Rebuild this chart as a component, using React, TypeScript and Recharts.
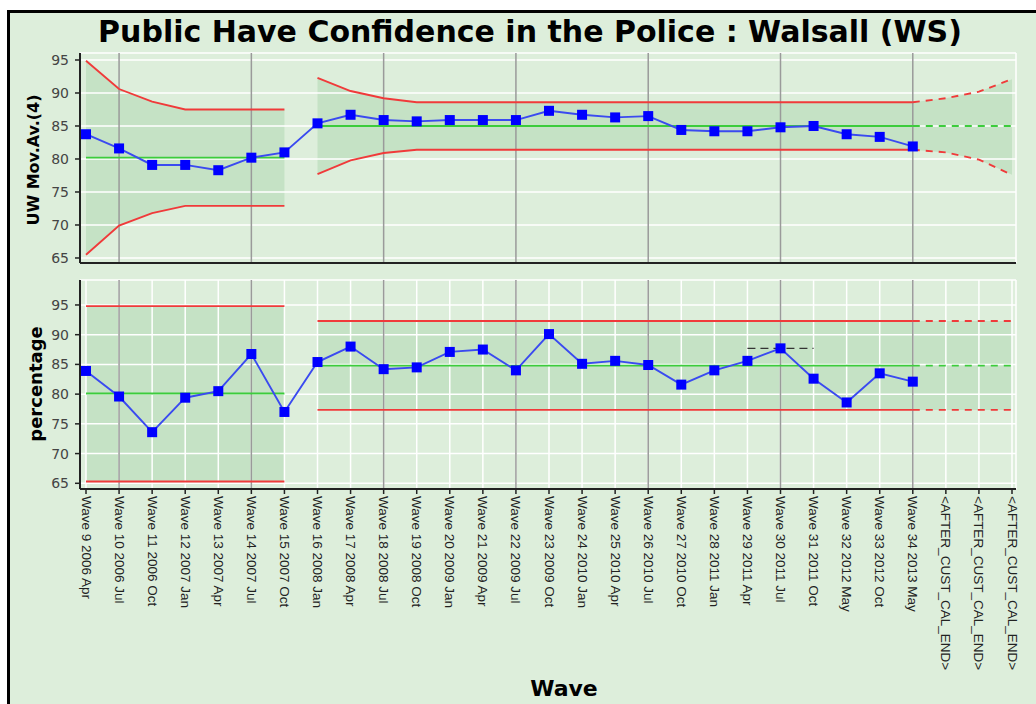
import { ComposedChart, Line, Area, XAxis, YAxis, CartesianGrid, ReferenceLine } from 'recharts';

const categories = [
  'Wave 9 2006 Apr', 'Wave 10 2006 Jul', 'Wave 11 2006 Oct', 'Wave 12 2007 Jan',
  'Wave 13 2007 Apr', 'Wave 14 2007 Jul', 'Wave 15 2007 Oct', 'Wave 16 2008 Jan',
  'Wave 17 2008 Apr', 'Wave 18 2008 Jul', 'Wave 19 2008 Oct', 'Wave 20 2009 Jan',
  'Wave 21 2009 Apr', 'Wave 22 2009 Jul', 'Wave 23 2009 Oct', 'Wave 24 2010 Jan',
  'Wave 25 2010 Apr', 'Wave 26 2010 Jul', 'Wave 27 2010 Oct', 'Wave 28 2011 Jan',
  'Wave 29 2011 Apr', 'Wave 30 2011 Jul', 'Wave 31 2011 Oct', 'Wave 32 2012 May',
  'Wave 33 2012 Oct', 'Wave 34 2013 May', '<AFTER_CUST_CAL_END>', '<AFTER_CUST_CAL_END>',
  '<AFTER_CUST_CAL_END>',
];

// index where each limit segment starts: [first period, second period, projection]
const segmentStarts = [0, 7, 25];
const yTicks = [65, 70, 75, 80, 85, 90, 95];
const markedWaves = [1, 5, 9, 13, 17, 21, 25];

// top panel: UW moving average (4)
const movAv = [
  83.75, 81.6, 79.1, 79.1, 78.3, 80.2, 81.0, 85.4, 86.7, 85.9, 85.7, 85.9, 85.9,
  85.9, 87.3, 86.7, 86.3, 86.5, 84.4, 84.2, 84.2, 84.8, 85.0, 83.75, 83.35, 81.9,
];
const movAvCentre = [80.2, 85.0, 85.0];
const movAvUcl1 = [94.9, 90.6, 88.7, 87.5, 87.5, 87.5, 87.5];
const movAvLcl1 = [65.5, 69.9, 71.8, 72.9, 72.9, 72.9, 72.9];
const movAvUcl2 = [92.3, 90.3, 89.2, 88.6, 88.6, 88.6, 88.6, 88.6, 88.6, 88.6, 88.6, 88.6, 88.6, 88.6, 88.6, 88.6, 88.6, 88.6, 88.6];
const movAvLcl2 = [77.7, 79.8, 80.9, 81.4, 81.4, 81.4, 81.4, 81.4, 81.4, 81.4, 81.4, 81.4, 81.4, 81.4, 81.4, 81.4, 81.4, 81.4, 81.4];
const movAvUclProj = [88.6, 89.2, 90.2, 92.1];
const movAvLclProj = [81.4, 81.0, 79.9, 77.6];

// bottom panel: percentage
const pct = [
  83.9, 79.6, 73.6, 79.4, 80.5, 86.75, 77.0, 85.4, 88.0, 84.2, 84.5, 87.1, 87.5,
  84.0, 90.1, 85.1, 85.6, 84.9, 81.6, 84.0, 85.6, 87.7, 82.6, 78.6, 83.5, 82.1,
];
const pctCentre = [80.1, 84.8, 84.8];
const pctUcl1 = [94.8, 94.8, 94.8, 94.8, 94.8, 94.8, 94.8];
const pctLcl1 = [65.3, 65.3, 65.3, 65.3, 65.3, 65.3, 65.3];
const pctUcl2 = [92.3, 92.3, 92.3, 92.3, 92.3, 92.3, 92.3, 92.3, 92.3, 92.3, 92.3, 92.3, 92.3, 92.3, 92.3, 92.3, 92.3, 92.3, 92.3];
const pctLcl2 = [77.35, 77.35, 77.35, 77.35, 77.35, 77.35, 77.35, 77.35, 77.35, 77.35, 77.35, 77.35, 77.35, 77.35, 77.35, 77.35, 77.35, 77.35, 77.35];
const pctUclProj = [92.3, 92.3, 92.3, 92.3];
const pctLclProj = [77.35, 77.35, 77.35, 77.35];
// short dashed marker near wave 29-31
const pctMarkStart = 20;
const pctMark = [87.7, 87.7, 87.7];

const BG = '#ddeedb';
const BAND = '#c5e2c5';
const RED = '#f03a3a';
const GREEN = '#3ccc3c';

function buildRows(values, centre, ucls, lcls) {
  return categories.map((_, i) => {
    const row = { idx: i, value: i < values.length ? values[i] : null };
    ucls.forEach((u, s) => {
      const k = i - segmentStarts[s];
      const inSeg = k >= 0 && k < u.length;
      row['u' + s] = inSeg ? u[k] : null;
      row['l' + s] = inSeg ? lcls[s][k] : null;
      row['c' + s] = inSeg ? centre[s] : null;
      row['b' + s] = inSeg ? [lcls[s][k], u[k]] : null;
    });
    return row;
  });
}

const topRows = buildRows(movAv, movAvCentre, [movAvUcl1, movAvUcl2, movAvUclProj], [movAvLcl1, movAvLcl2, movAvLclProj]);
const bottomRows = buildRows(pct, pctCentre, [pctUcl1, pctUcl2, pctUclProj], [pctLcl1, pctLcl2, pctLclProj]);
bottomRows.forEach((r, i) => {
  const k = i - pctMarkStart;
  r.mark = k >= 0 && k < pctMark.length ? pctMark[k] : null;
});

const SquareDot = (props) => {
  const { cx, cy, index } = props;
  if (cx == null || cy == null || Number.isNaN(cy)) return <g key={index} />;
  return <rect key={index} x={cx - 5} y={cy - 5} width={10} height={10} fill='#0000ff' />;
};

const WaveTick = ({ x, y, payload }) => (
  <text
    x={x}
    y={y}
    transform={`rotate(90, ${x}, ${y})`}
    textAnchor='start'
    dominantBaseline='central'
    fontSize={13.5}
    fontFamily='Liberation Sans, Arial, sans-serif'
    fill='#222'
  >
    {categories[payload.value]}
  </text>
);

function Panel({ rows, domain, height, top, axisHeight, labels, mark }) {
  return (
    <ComposedChart
      width={1036}
      height={height}
      data={rows}
      margin={{ top, right: 20, bottom: 0, left: 0 }}
    >
      {[0, 1, 2].map((s) => (
        <Area
          key={'b' + s}
          dataKey={'b' + s}
          type='linear'
          stroke='none'
          fill={BAND}
          fillOpacity={1}
          isAnimationActive={false}
        />
      ))}
      <CartesianGrid stroke='#ffffff' strokeWidth={1.5} zIndex={150} />
      {markedWaves.map((w) => (
        <ReferenceLine key={w} x={w} stroke='#9a9a9a' strokeWidth={1.5} zIndex={160} />
      ))}
      <XAxis
        dataKey='idx'
        type='category'
        scale='point'
        padding={{ left: 6, right: 4 }}
        height={axisHeight}
        interval={0}
        tickSize={5}
        tickMargin={2}
        axisLine={{ stroke: '#222', strokeWidth: 2 }}
        tickLine={{ stroke: '#222', strokeWidth: 1.5 }}
        tick={labels ? <WaveTick /> : false}
      />
      <YAxis
        width={80}
        domain={domain}
        allowDataOverflow
        ticks={yTicks}
        tickSize={5}
        tickMargin={6}
        axisLine={{ stroke: '#222', strokeWidth: 2 }}
        tickLine={{ stroke: '#222', strokeWidth: 1.5 }}
        tick={{ fontSize: 14, fill: '#444', fontFamily: 'DejaVu Sans, sans-serif' }}
      />
      {[0, 1].map((s) => [
        <Line key={'u' + s} dataKey={'u' + s} stroke={RED} strokeWidth={1.9} dot={false} isAnimationActive={false} />,
        <Line key={'l' + s} dataKey={'l' + s} stroke={RED} strokeWidth={1.9} dot={false} isAnimationActive={false} />,
        <Line key={'c' + s} dataKey={'c' + s} stroke={GREEN} strokeWidth={1.9} dot={false} isAnimationActive={false} />,
      ])}
      <Line dataKey='u2' stroke={RED} strokeWidth={1.9} strokeDasharray='7 6' dot={false} isAnimationActive={false} />
      <Line dataKey='l2' stroke={RED} strokeWidth={1.9} strokeDasharray='7 6' dot={false} isAnimationActive={false} />
      <Line dataKey='c2' stroke={GREEN} strokeWidth={1.9} strokeDasharray='7 6' dot={false} isAnimationActive={false} />
      {mark && (
        <Line dataKey='mark' stroke='#333' strokeWidth={1.4} strokeDasharray='8 5' dot={false} isAnimationActive={false} />
      )}
      <Line
        dataKey='value'
        stroke='#3a4af0'
        strokeWidth={1.9}
        dot={<SquareDot />}
        isAnimationActive={false}
      />
    </ComposedChart>
  );
}

export default function App() {
  return (
    <div style={{ position: 'absolute', left: 0, top: 0, width: 1036, height: 704, overflow: 'hidden', background: '#fff' }}>
      <div
        style={{
          position: 'absolute', left: 7, top: 10, width: 1100, height: 800,
          borderTop: '3px solid #000', borderLeft: '3px solid #000', background: BG,
        }}
      />
      <div style={{ position: 'absolute', left: 0, top: 0 }}>
        <Panel rows={topRows} domain={[64.24, 96.06]} height={273} top={53} axisHeight={10} labels={false} />
      </div>
      <div style={{ position: 'absolute', left: 0, top: 0 }}>
        <Panel rows={bottomRows} domain={[64.04, 99.2]} height={704} top={280} axisHeight={215} labels mark />
      </div>
      <svg width={1036} height={704} style={{ position: 'absolute', left: 0, top: 0, pointerEvents: 'none' }}>
        <g fontFamily='DejaVu Sans, sans-serif' fontWeight='bold' fill='#000'>
          <text x={530} y={42} textAnchor='middle' fontSize={30}>
            Public Have Confidence in the Police : Walsall (WS)
          </text>
          <text x={33} y={160} textAnchor='middle' dominantBaseline='central' fontSize={16} transform='rotate(-90, 33, 160)'>
            UW Mov.Av.(4)
          </text>
          <text x={35} y={384} textAnchor='middle' dominantBaseline='central' fontSize={18} transform='rotate(-90, 35, 384)'>
            percentage
          </text>
          <text x={564} y={696} textAnchor='middle' fontSize={22}>
            Wave
          </text>
        </g>
      </svg>
    </div>
  );
}
